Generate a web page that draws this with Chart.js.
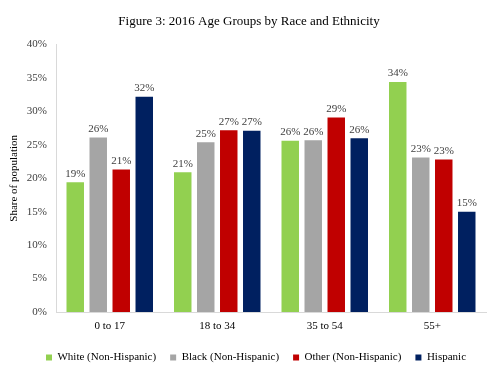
<!DOCTYPE html>
<html>
<head>
<meta charset="utf-8">
<script src="https://cdn.jsdelivr.net/npm/chart.js@4"></script>
<style>
html,body{margin:0;padding:0;background:#fff;}
#wrap{width:500px;height:375px;}
</style>
</head>
<body>
<div id="wrap"><canvas id="c" width="500" height="375"></canvas></div>
<script>
const categories = ["0 to 17", "18 to 34", "35 to 54", "55+"];
const seriesNames = ["White (Non-Hispanic)", "Black (Non-Hispanic)", "Other (Non-Hispanic)", "Hispanic"];
const white = [19.4, 20.9, 25.6, 34.4];
const black = [26.1, 25.4, 25.7, 23.1];
const other = [21.3, 27.2, 29.1, 22.8];
const hispanic = [32.2, 27.1, 26.0, 15.0];
const yTicks = [0, 5, 10, 15, 20, 25, 30, 35, 40];
const colors = ["#92d050", "#a5a5a5", "#c00000", "#002060"];

const serif = "'Liberation Serif','Times New Roman',serif";

const labelPlugin = {
  id: 'barLabels',
  afterDatasetsDraw(chart) {
    const ctx = chart.ctx;
    ctx.save();
    ctx.font = "11px " + serif;
    ctx.fillStyle = "#404040";
    ctx.textAlign = "center";
    ctx.textBaseline = "bottom";
    chart.data.datasets.forEach((ds, i) => {
      const meta = chart.getDatasetMeta(i);
      meta.data.forEach((bar, j) => {
        ctx.fillText(Math.round(ds.data[j]) + "%", bar.x, bar.y - 3);
      });
    });
    ctx.restore();
  }
};

const shiftPlugin = {
  id: 'shiftBoxes',
  afterLayout(chart) {
    if (chart.legend) { chart.legend.left += 9; chart.legend.right += 9; }
    if (chart.titleBlock) { chart.titleBlock.left += 2; chart.titleBlock.right += 2; }
  }
};

const allSeries = [white, black, other, hispanic];
new Chart(document.getElementById('c'), {
  type: 'bar',
  data: {
    labels: categories,
    datasets: allSeries.map((d, i) => ({
      label: seriesNames[i],
      data: d,
      backgroundColor: colors[i],
      categoryPercentage: 0.856,
      barPercentage: 0.76
    }))
  },
  options: {
    responsive: false,
    animation: false,
    devicePixelRatio: 1,
    layout: { padding: { left: 8, right: 14, top: 0, bottom: 2 } },
    plugins: {
      title: {
        display: true,
        text: "Figure 3: 2016 Age Groups by Race and Ethnicity",
        color: "#000",
        font: { family: serif, size: 13, weight: 'normal' },
        padding: { top: 14, bottom: 15 }
      },
      legend: {
        position: 'bottom',
        labels: {
          boxWidth: 6, boxHeight: 6,
          color: "#000",
          font: { family: serif, size: 11 },
          padding: 14
        }
      },
      tooltip: { enabled: false }
    },
    scales: {
      x: {
        grid: { display: false, drawTicks: false },
        border: { color: "#d9d9d9" },
        ticks: { color: "#000", font: { family: serif, size: 11 }, padding: 8 },
        afterFit(s) { s.height = 26; }
      },
      y: {
        min: 0, max: 40,
        afterBuildTicks(s) { s.ticks = yTicks.map(v => ({ value: v })); },
        grid: { display: false, drawTicks: false },
        border: { color: "#d9d9d9" },
        ticks: { color: "#404040", font: { family: serif, size: 11 }, padding: 9,
                 callback: v => v + "%" },
        title: { display: true, text: "Share of population", color: "#000",
                 font: { family: serif, size: 11 }, padding: { top: 0, bottom: 4 } },
        afterFit(s) { s.width = 48; }
      }
    }
  },
  plugins: [labelPlugin, shiftPlugin]
});
</script>
</body>
</html>
